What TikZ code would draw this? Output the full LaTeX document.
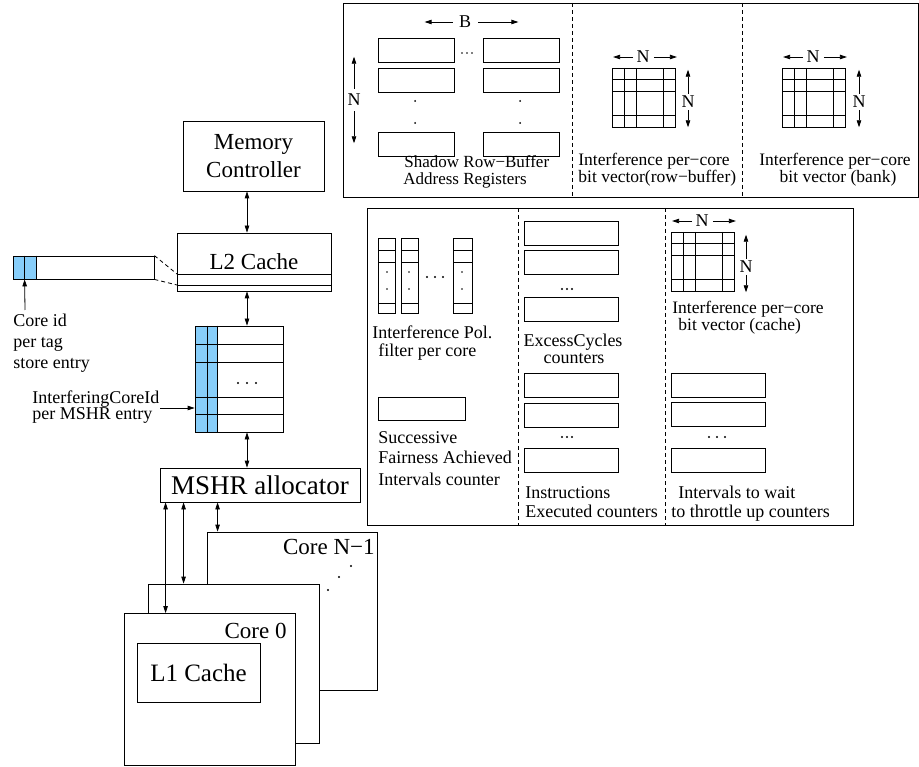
\documentclass[tikz,border=0pt]{standalone}
\usepackage{fontspec}
\setmainfont{Liberation Serif}
\usetikzlibrary{arrows.meta}
\definecolor{idblue}{RGB}{135,206,250}
\begin{document}
\begin{tikzpicture}[x=1pt,y=-1pt,line width=0.8pt,
  >={Triangle[length=7pt,width=4.5pt]},
  bigfont/.style={font=\fontsize{23}{28}\selectfont},
  l1font/.style={font=\fontsize{25}{28}\selectfont},
  hugefont/.style={font=\fontsize{27}{32}\selectfont},
  smallfont/.style={font=\fontsize{18}{21}\selectfont},
  tightfont/.style={font=\fontsize{17.5}{19}\selectfont},
  shadowfont/.style={font=\fontsize{17}{19}\selectfont},
  txt/.style={smallfont, inner sep=0pt, anchor=base west},
  ctxt/.style={smallfont, inner sep=0pt, anchor=base},
  dimlab/.style={smallfont, inner sep=0pt},
  box/.style={draw, fill=white, inner sep=0pt, align=center},
  divider/.style={dash pattern=on 4pt off 3pt},
  dotmark/.style={fill=black, draw=none},
  bitgrid/.pic={
    \draw (0,0) rectangle (63,59);
    \draw (12,0) -- (12,59) (24,0) -- (24,59) (51,0) -- (51,59);
    \draw (0,11) -- (63,11) (0,23) -- (63,23) (0,47) -- (63,47);
  }
]
\useasboundingbox (0,0) rectangle (919,767);
\fill[white] (0,0) rectangle (919,767);

% ---------------- upper panel: memory-controller state ----------------
\draw (343,3) rectangle (918,197);
\draw[divider] (572,3) -- (572,197);
\draw[divider] (742,3) -- (742,197);

% shadow row-buffer address registers
\foreach \y in {38,68,132} {
  \draw (378,\y) rectangle ++(76,24);
  \draw (483,\y) rectangle ++(76,24);
}
\foreach \x in {462,467,472} \fill[dotmark] (\x,53) circle (0.8);
\foreach \x in {415,520} {
  \fill[dotmark] (\x,101) circle (1);
  \fill[dotmark] (\x,123) circle (1);
}
\node[dimlab] (bdim) at (465,22) {B};
\draw[->] ([xshift=-6pt]bdim.west) -- ++(-28,0);
\draw[->] ([xshift=7pt]bdim.east) -- ++(40,0);
\node[dimlab] (ndimA) at (354,100) {N};
\draw[->] ([yshift=5pt]ndimA.north) -- ++(0,-32);
\draw[->] ([yshift=-5pt]ndimA.south) -- ++(0,32);
\node[txt, shadowfont] (shA) at (404,168) {Shadow Row−Buffer};
\node[txt, shadowfont] (shB) at (403,185) {Address Registers};

% interference bit vector (row-buffer)
\pic at (612,68) {bitgrid};
\node[dimlab] (ndimB) at (643,57) {N};
\draw[->] ([xshift=-3pt]ndimB.west) -- ++(-20,0);
\draw[->] ([xshift=4pt]ndimB.east) -- ++(23,0);
\node[dimlab] (ndimC) at (688,102) {N};
\draw[->] ([yshift=2pt]ndimC.north) -- ++(0,-24);
\draw[->] ([yshift=-2pt]ndimC.south) -- ++(0,17);
\node[txt, tightfont] (rbA) at (578,166) {Interference per−core};
\node[txt, tightfont] (rbB) at (578,183) {bit vector(row−buffer)};

% interference bit vector (bank)
\pic at (782,68) {bitgrid};
\node[dimlab] (ndimD) at (813,57) {N};
\draw[->] ([xshift=-3pt]ndimD.west) -- ++(-20,0);
\draw[->] ([xshift=4pt]ndimD.east) -- ++(23,0);
\node[dimlab] (ndimE) at (859,102) {N};
\draw[->] ([yshift=2pt]ndimE.north) -- ++(0,-24);
\draw[->] ([yshift=-2pt]ndimE.south) -- ++(0,17);
\node[ctxt, tightfont] (bkA) at (835,166) {Interference per−core};
\node[ctxt, tightfont] (bkB) at (838,183) {bit vector (bank)};

% ---------------- lower panel: fairness state ----------------
\draw (367,208) rectangle (853,525);
\draw[divider] (518,208) -- (518,525);
\draw[divider] (665,208) -- (665,525);

% interference pollution filters
\foreach \x/\w in {378/17,401/17,453/19} {
  \draw (\x,238) rectangle ++(\w,75);
  \draw (\x,250) -- ++(\w,0) (\x,262) -- ++(\w,0) (\x,303) -- ++(\w,0);
}
\foreach \x in {387,409,462} {
  \fill[dotmark] (\x,272) circle (0.9);
  \fill[dotmark] (\x,289) circle (0.9);
}
\foreach \x in {427,435,443} \fill[dotmark] (\x,277) circle (1.1);
\node[txt] (ipA) at (372,339) {Interference Pol.};
\node[txt] (ipB) at (378,357) {filter per core};

\draw (378,397) rectangle (465,420);
\node[txt] (sfA) at (378,443) {Successive};
\node[txt] (sfB) at (378,464) {Fairness Achieved};
\node[txt] (sfC) at (378,485) {Intervals counter};

% excess-cycles and instruction counters
\foreach \y in {221,250,297,373,403,448} \draw (524,\y) rectangle ++(94,24);
\foreach \x in {562,567,572} {
  \fill[dotmark] (\x,289) circle (1.1);
  \fill[dotmark] (\x,437) circle (1.1);
}
\node[ctxt] (ecA) at (573,347) {ExcessCycles};
\node[ctxt] (ecB) at (574,364) {counters};
\node[txt] (ieA) at (525,498) {Instructions};
\node[txt] (ieB) at (525,517) {Executed counters};

% interference bit vector (cache)
\pic at (671,232) {bitgrid};
\node[dimlab] (ndimF) at (702,221) {N};
\draw[->] ([xshift=-3pt]ndimF.west) -- ++(-20,0);
\draw[->] ([xshift=4pt]ndimF.east) -- ++(23,0);
\node[dimlab] (ndimG) at (746,267) {N};
\draw[->] ([yshift=2pt]ndimG.north) -- ++(0,-24);
\draw[->] ([yshift=-2pt]ndimG.south) -- ++(0,17);
\node[txt, tightfont] (caA) at (672,314) {Interference per−core};
\node[txt, tightfont] (caB) at (678,331) {bit vector (cache)};

% throttle-up wait counters
\foreach \y in {373,402,448} \draw (671,\y) rectangle ++(94,24);
\foreach \x in {709,717,725} \fill[dotmark] (\x,437) circle (1.1);
\node[txt] (twA) at (678,498) {Intervals to wait};
\node[txt] (twB) at (671,517) {to throttle up counters};

% ---------------- memory hierarchy ----------------
\node[box, bigfont, minimum width=141pt, minimum height=70pt] (mc) at (253.5,156) {Memory\\Controller};
\node[box, bigfont, minimum width=154pt, minimum height=58pt] (l2) at (254,262) {L2 Cache};
\coordinate (l2a) at (177,274);
\coordinate (l2b) at (177,285);
\draw (l2a) -- (l2a -| l2.east);
\draw (l2b) -- (l2b -| l2.east);

% tag-store entry with core id field
\node[draw, inner sep=0pt, minimum width=141pt, minimum height=23pt,
  path picture={\fill[idblue] (path picture bounding box.south west) rectangle ([xshift=24pt]path picture bounding box.north west);}]
  (tag) at (83.5,267.5) {};
\draw ([xshift=12pt]tag.north west) -- ([xshift=12pt]tag.south west);
\draw ([xshift=24pt]tag.north west) -- ([xshift=24pt]tag.south west);
\draw[divider] (tag.north east) -- (l2a);
\draw[divider] (tag.south east) -- (l2b);
\coordinate (cid) at ([xshift=12pt]tag.south west);
\coordinate (cidfoot) at (25,310);
\draw[->] (cidfoot) -- (cid);
\node[txt] (ciA) at (13,327) {Core id};
\node[txt] (ciB) at (13,348) {per tag};
\node[txt] (ciC) at (13,369) {store entry};

% MSHR table with interfering core id field
\node[draw, inner sep=0pt, minimum width=88pt, minimum height=106pt,
  path picture={\fill[idblue] (path picture bounding box.south west) rectangle ([xshift=23pt]path picture bounding box.north west);}]
  (mshrt) at (239,379) {};
\draw ([xshift=13pt]mshrt.north west) -- ([xshift=13pt]mshrt.south west);
\draw[line width=1.1pt] ([xshift=23pt]mshrt.north west) -- ([xshift=23pt]mshrt.south west);
\foreach \y in {344,362,397,414} \draw (195,\y) -- (283,\y);
\foreach \x in {238,247,256} \fill[dotmark] (\x,383) circle (1.2);
\node[txt] (icA) at (32,403) {InterferingCoreId};
\node[txt] (icB) at (32,420) {per MSHR entry};
\coordinate (icfoot) at (160,408);
\draw[->] (icfoot) -- (icfoot -| mshrt.west);

\node[box, hugefont, minimum width=200pt, minimum height=34pt] (alloc) at (260,485) {MSHR allocator};

% cores, back to front
\node[box, minimum width=170pt, minimum height=158pt] (coreN) at (292,611) {};
\node[box, minimum width=171pt, minimum height=159pt] (core1) at (233.5,663.5) {};
\node[box, minimum width=171pt, minimum height=152pt] (core0) at (209.5,689.5) {};
\node[box, l1font, minimum width=123pt, minimum height=59pt] (l1) at (198.5,672.5) {L1 Cache};
\node[bigfont, inner sep=0pt, anchor=base east] (c0lab) at (287,638) {Core 0};
\node[bigfont, inner sep=0pt, anchor=base east] (cNlab) at (375,554) {Core N−1};
\fill[dotmark] (351,566) circle (1.1);
\fill[dotmark] (339,577) circle (1.1);
\fill[dotmark] (328,590) circle (1.1);

% links
\coordinate (ax) at (247,0);
\draw[<->] (mc.south -| ax) -- (l2.north -| ax);
\draw[<->] (l2.south -| ax) -- (mshrt.north -| ax);
\draw[<->] (mshrt.south -| ax) -- (alloc.north -| ax);
\coordinate (p0) at ([xshift=6pt]alloc.south west);
\coordinate (p1) at ([xshift=24pt]alloc.south west);
\coordinate (pN) at ([xshift=58pt]alloc.south west);
\draw[<->] (p0) -- (p0 |- core0.north);
\draw[<->] (p1) -- (p1 |- core1.north);
\draw[<->] (pN) -- (pN |- coreN.north);
\end{tikzpicture}
\end{document}
